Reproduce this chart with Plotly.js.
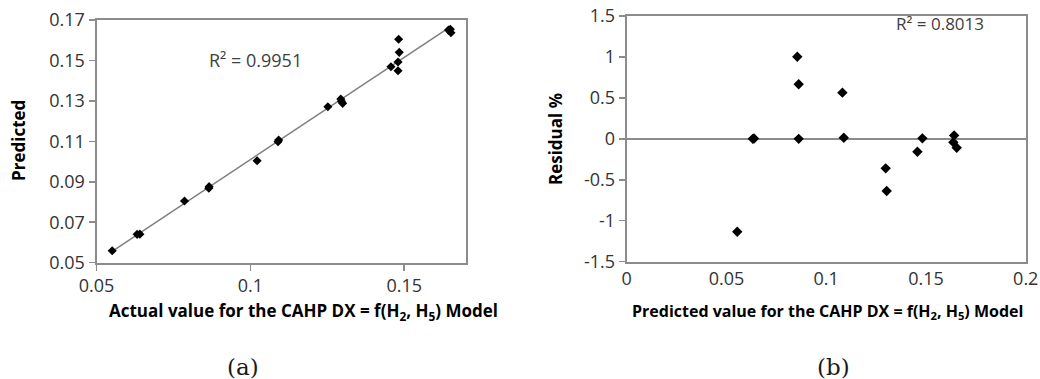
<!DOCTYPE html>
<html>
<head>
<meta charset="utf-8">
<script src="https://cdn.plot.ly/plotly-3.0.1.min.js"></script>
<style>html,body{margin:0;padding:0;background:#fff;}#chart{width:1040px;height:379px;}</style>
</head>
<body>
<div id="chart"></div>
<script>
// Panel (a): actual vs predicted
const actualA = [0.0551, 0.0632, 0.0641, 0.0786, 0.0865, 0.0866, 0.1022, 0.1090, 0.1092, 0.1252, 0.1294, 0.1296, 0.1300, 0.1457, 0.1482, 0.1484, 0.1480, 0.1480, 0.1644, 0.1650, 0.1652];
const predictedA = [0.0559, 0.0640, 0.0641, 0.0805, 0.0868, 0.0876, 0.1004, 0.1098, 0.1107, 0.1271, 0.1309, 0.1298, 0.1288, 0.1469, 0.1605, 0.1540, 0.1492, 0.1449, 0.1650, 0.1654, 0.1637];
// Panel (b): predicted vs residual %
const predictedB = [0.0554, 0.0632, 0.0638, 0.0855, 0.0862, 0.0862, 0.1081, 0.1088, 0.1298, 0.1303, 0.1457, 0.1482, 0.1641, 0.1637, 0.1654];
const residualB = [-1.134, 0.0, 0.005, 1.003, 0.666, 0.0, 0.564, 0.013, -0.36, -0.637, -0.157, 0.006, 0.042, -0.043, -0.108];

const yTicksA = [0.05, 0.07, 0.09, 0.11, 0.13, 0.15, 0.17];
const yTickTextA = ["0.05", "0.07", "0.09", "0.11", "0.13", "0.15", "0.17"];
const xTicksA = [0.05, 0.1, 0.15];
const xTickTextA = ["0.05", "0.1", "0.15"];
const yTicksB = [-1.5, -1, -0.5, 0, 0.5, 1, 1.5];
const yTickTextB = ["-1.5", "-1", "-0.5", "0", "0.5", "1", "1.5"];
const xTicksB = [0, 0.05, 0.1, 0.15, 0.2];
const xTickTextB = ["0", "0.05", "0.1", "0.15", "0.2"];

const r2A = "R² = 0.9951";
const r2B = "R² = 0.8013";

// least-squares trend line for panel (a)
const n = actualA.length;
const mx = actualA.reduce((a, b) => a + b, 0) / n;
const my = predictedA.reduce((a, b) => a + b, 0) / n;
let sxy = 0, sxx = 0;
for (let i = 0; i < n; i++) { sxy += (actualA[i] - mx) * (predictedA[i] - my); sxx += (actualA[i] - mx) ** 2; }
const slope = sxy / sxx, icpt = my - slope * mx;
const xmin = Math.min(...actualA), xmax = Math.max(...actualA);
const trendX = [xmin, xmax];
const trendY = trendX.map(v => icpt + slope * v);

const axisGray = '#8c8c8c';
const tickFont = {family: 'Open Sans, sans-serif', size: 18, color: '#333333'};

const traces = [
  {x: trendX, y: trendY, xaxis: 'x', yaxis: 'y', mode: 'lines', line: {color: '#7f7f7f', width: 1.5}, hoverinfo: 'skip'},
  {x: actualA, y: predictedA, xaxis: 'x', yaxis: 'y', mode: 'markers', marker: {symbol: 'diamond', size: 7, color: '#000'}},
  {x: predictedB, y: residualB, xaxis: 'x2', yaxis: 'y2', mode: 'markers', marker: {symbol: 'diamond', size: 8, color: '#000'}}
];

const commonAxis = {showgrid: false, zeroline: false, showline: true, linecolor: axisGray, linewidth: 2,
  ticks: 'outside', ticklen: 6, tickcolor: axisGray, tickwidth: 1.5, tickfont: tickFont, mirror: true, fixedrange: true};

const layout = {
  width: 1040, height: 379,
  margin: {l: 0, r: 0, t: 0, b: 0},
  paper_bgcolor: '#fff', plot_bgcolor: '#fff',
  showlegend: false,
  xaxis: Object.assign({}, commonAxis, {domain: [0.0928, 0.4478], range: [0.05, 0.17], tickvals: xTicksA, ticktext: xTickTextA, anchor: 'y'}),
  yaxis: Object.assign({}, commonAxis, {domain: [0.3069, 0.9472], range: [0.05, 0.17], tickvals: yTicksA, ticktext: yTickTextA, anchor: 'x'}),
  xaxis2: Object.assign({}, commonAxis, {domain: [0.6026, 0.9863], range: [0, 0.2], tickvals: xTicksB, ticktext: xTickTextB, anchor: 'y2', ticks: ''}),
  yaxis2: Object.assign({}, commonAxis, {domain: [0.3095, 0.9578], range: [-1.5, 1.5], tickvals: yTicksB, ticktext: yTickTextB, anchor: 'x2',
    zeroline: true, zerolinecolor: axisGray, zerolinewidth: 2}),
  xaxis3: {overlaying: 'x2', anchor: 'free', position: 0.63365, domain: [0.6026, 0.9863], range: [0, 0.2], tickvals: xTicksB,
    showticklabels: false, ticks: 'outside', ticklen: 4, tickcolor: axisGray, tickwidth: 1.5, showline: false, showgrid: false, zeroline: false, fixedrange: true},
  annotations: [
    {text: r2A, xref: 'paper', yref: 'paper', x: 0.2452, y: 0.8417, xanchor: 'center', yanchor: 'middle', showarrow: false,
      font: {family: 'Open Sans, sans-serif', size: 18, color: '#404040'}},
    {text: r2B, xref: 'paper', yref: 'paper', x: 0.9038, y: 0.9367, xanchor: 'center', yanchor: 'middle', showarrow: false,
      font: {family: 'Open Sans, sans-serif', size: 17, color: '#404040'}},
    {text: '<b>Predicted</b>', xref: 'paper', yref: 'paper', x: 0.0173, y: 0.6306, xanchor: 'center', yanchor: 'middle', textangle: -90, showarrow: false,
      font: {family: 'Open Sans, sans-serif', size: 17, color: '#000'}},
    {text: '<b>Residual %</b>', xref: 'paper', yref: 'paper', x: 0.5337, y: 0.6332, xanchor: 'center', yanchor: 'middle', textangle: -90, showarrow: false,
      font: {family: 'Open Sans, sans-serif', size: 17, color: '#000'}},
    {text: '<b>Actual value for the CAHP DX = f(H<sub>2</sub>, H<sub>5</sub>) Model</b>', xref: 'paper', yref: 'paper', x: 0.2918, y: 0.1768, xanchor: 'center', yanchor: 'middle', showarrow: false,
      font: {family: 'Open Sans, sans-serif', size: 17, color: '#000'}},
    {text: '<b>Predicted value for the CAHP DX = f(H<sub>2</sub>, H<sub>5</sub>) Model</b>', xref: 'paper', yref: 'paper', x: 0.7957, y: 0.1768, xanchor: 'center', yanchor: 'middle', showarrow: false,
      font: {family: 'Open Sans, sans-serif', size: 16, color: '#000'}},
    {text: '(a)', xref: 'paper', yref: 'paper', x: 0.2337, y: 0.0317, xanchor: 'center', yanchor: 'middle', showarrow: false,
      font: {family: 'DejaVu Serif, serif', size: 23, color: '#1a1a1a'}},
    {text: '(b)', xref: 'paper', yref: 'paper', x: 0.801, y: 0.0317, xanchor: 'center', yanchor: 'middle', showarrow: false,
      font: {family: 'DejaVu Serif, serif', size: 23, color: '#1a1a1a'}}
  ]
};

Plotly.newPlot('chart', traces, layout, {displayModeBar: false, staticPlot: true});
</script>
</body>
</html>
